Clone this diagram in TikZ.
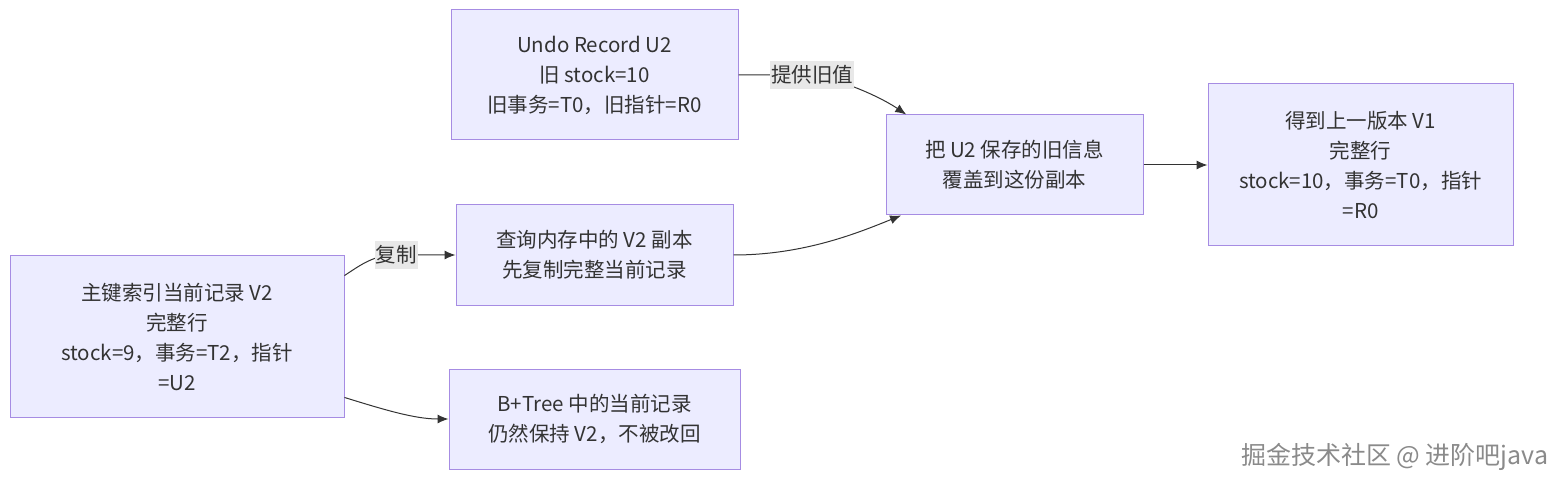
\documentclass[tikz,border=0pt]{standalone}
\usepackage{fontspec}
\setmainfont{Noto Sans CJK SC}
\usetikzlibrary{arrows.meta}
\definecolor{boxfill}{HTML}{ECECFF}
\definecolor{boxline}{HTML}{A68CE3}
\definecolor{txt}{HTML}{333333}
\definecolor{lblbg}{HTML}{E8E8E8}
\definecolor{wm}{HTML}{8A8A8A}
\tikzset{
  box/.style={draw=boxline, fill=boxfill, line width=1pt, align=center, text=txt,
    font=\fontsize{20.5}{30}\selectfont, inner sep=0pt},
  arr/.style={draw=txt, line width=1pt, -{Latex[length=11pt,width=9pt]}},
  lbl/.style={fill=lblbg, text=txt, font=\fontsize{20.5}{24}\selectfont, inner xsep=1pt, inner ysep=5pt},
}
\begin{document}
\begin{tikzpicture}[x=1pt,y=-1pt]
\useasboundingbox (0,0) rectangle (1568,486);
\node[box, minimum width=287, minimum height=130] (undo) at (594.5,75)
  {Undo Record U2\\旧 stock=10\\旧事务=T0，旧指针=R0};
\node[box, minimum width=277, minimum height=100] (cx) at (594.5,255)
  {查询内存中的 V2 副本\\先复制完整当前记录};
\node[box, minimum width=334, minimum height=161] (zj) at (177,336.5)
  {主键索引当前记录 V2\\完整行\\stock=9，事务=T2，指针\\=U2};
\node[box, minimum width=291, minimum height=100] (bt) at (594.5,419)
  {B+Tree 中的当前记录\\仍然保持 V2，不被改回};
\node[box, minimum width=257, minimum height=100] (bx) at (1014.5,165)
  {把 U2 保存的旧信息\\覆盖到这份副本};
\node[box, minimum width=305, minimum height=162] (dd) at (1360.5,165)
  {得到上一版本 V1\\完整行\\stock=10，事务=T0，指针\\=R0};

\draw[arr] (zj.20.8) .. controls (362,264) and (374,255) .. (396,255)
  node[lbl] (l1) {复制} -- (cx.west);
\draw[arr] (zj.-20.8) .. controls (385,410) and (415,419) .. (bt.west);
\draw[arr] (undo.east) -- (812,75) node[lbl] (l2) {提供旧值}
  .. controls (850,82) and (885,100) .. (bx.155.8);
\draw[arr] (cx.east) .. controls (805,255) and (860,232) .. (bx.204.2);
\draw[arr] (bx.east) -- (dd.west);

\node[text=wm, font=\fontsize{25}{28}\selectfont, anchor=east] (wmk) at (1552,457)
  {掘金技术社区 @ 进阶吧java};
\end{tikzpicture}
\end{document}
